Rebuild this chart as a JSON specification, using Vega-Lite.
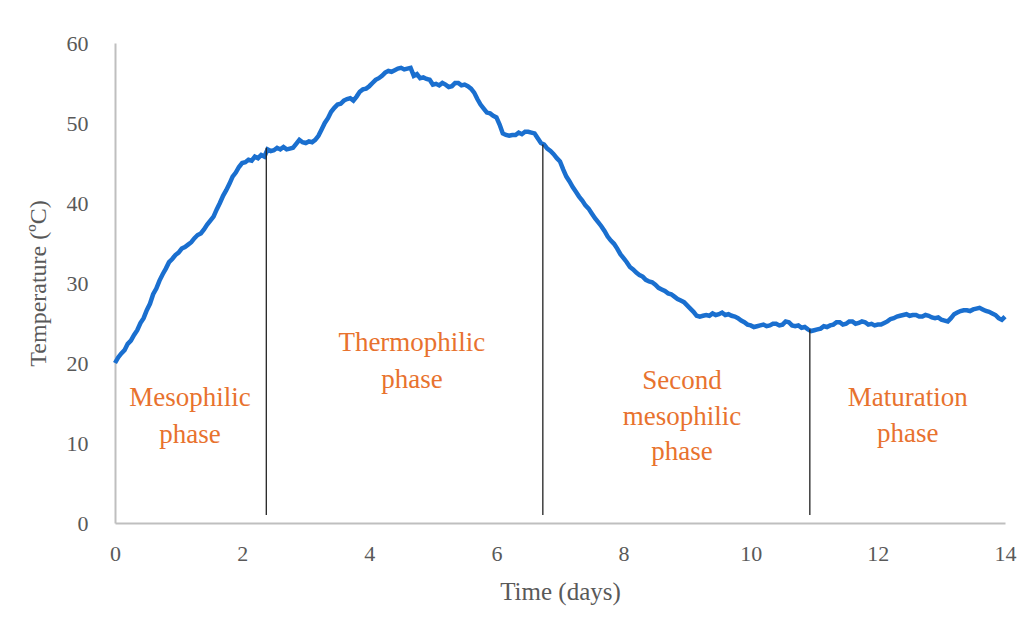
{
  "$schema": "https://vega.github.io/schema/vega-lite/v6.json",
  "width": 890,
  "height": 480,
  "autosize": {"type": "none"},
  "padding": {"left": 115, "top": 43, "right": 21, "bottom": 102},
  "background": "white",
  "config": {
    "view": {"stroke": null},
    "font": "Liberation Serif"
  },
  "datasets": {
    "temp": [
      {"t":0.0,"c":20.0},{"t":0.05,"c":20.7},{"t":0.1,"c":21.2},{"t":0.15,"c":21.6},{"t":0.2,"c":22.4},{"t":0.25,"c":22.8},{"t":0.3,"c":23.5},{"t":0.35,"c":24.1},{"t":0.4,"c":25.0},{"t":0.45,"c":25.6},{"t":0.5,"c":26.6},{"t":0.55,"c":27.4},{"t":0.6,"c":28.6},{"t":0.65,"c":29.3},{"t":0.7,"c":30.3},{"t":0.75,"c":31.1},{"t":0.8,"c":31.8},{"t":0.85,"c":32.6},{"t":0.9,"c":33.0},{"t":0.95,"c":33.5},{"t":1.0,"c":33.8},{"t":1.05,"c":34.3},{"t":1.1,"c":34.5},{"t":1.15,"c":34.8},{"t":1.2,"c":35.1},{"t":1.25,"c":35.6},{"t":1.3,"c":36.0},{"t":1.35,"c":36.2},{"t":1.4,"c":36.7},{"t":1.45,"c":37.3},{"t":1.5,"c":37.8},{"t":1.55,"c":38.3},{"t":1.6,"c":39.2},{"t":1.65,"c":40.0},{"t":1.7,"c":40.9},{"t":1.75,"c":41.6},{"t":1.8,"c":42.4},{"t":1.85,"c":43.3},{"t":1.9,"c":43.8},{"t":1.95,"c":44.5},{"t":2.0,"c":45.0},{"t":2.05,"c":45.1},{"t":2.1,"c":45.4},{"t":2.15,"c":45.3},{"t":2.2,"c":45.8},{"t":2.25,"c":45.6},{"t":2.3,"c":46.0},{"t":2.35,"c":45.8},{"t":2.4,"c":46.7},{"t":2.45,"c":46.5},{"t":2.5,"c":46.6},{"t":2.55,"c":46.9},{"t":2.6,"c":46.7},{"t":2.65,"c":47.0},{"t":2.7,"c":46.7},{"t":2.75,"c":46.8},{"t":2.8,"c":46.9},{"t":2.85,"c":47.4},{"t":2.9,"c":47.9},{"t":2.95,"c":47.6},{"t":3.0,"c":47.5},{"t":3.05,"c":47.7},{"t":3.1,"c":47.6},{"t":3.15,"c":47.9},{"t":3.2,"c":48.4},{"t":3.25,"c":49.2},{"t":3.3,"c":50.0},{"t":3.35,"c":50.6},{"t":3.4,"c":51.4},{"t":3.45,"c":51.9},{"t":3.5,"c":52.3},{"t":3.55,"c":52.4},{"t":3.6,"c":52.8},{"t":3.65,"c":53.0},{"t":3.7,"c":53.1},{"t":3.75,"c":52.8},{"t":3.8,"c":53.3},{"t":3.85,"c":53.9},{"t":3.9,"c":54.2},{"t":3.95,"c":54.3},{"t":4.0,"c":54.6},{"t":4.05,"c":55.0},{"t":4.1,"c":55.4},{"t":4.15,"c":55.6},{"t":4.2,"c":55.9},{"t":4.25,"c":56.3},{"t":4.3,"c":56.5},{"t":4.35,"c":56.4},{"t":4.4,"c":56.6},{"t":4.45,"c":56.8},{"t":4.5,"c":56.9},{"t":4.55,"c":56.7},{"t":4.6,"c":56.8},{"t":4.65,"c":56.9},{"t":4.7,"c":55.9},{"t":4.75,"c":56.1},{"t":4.8,"c":55.6},{"t":4.85,"c":55.7},{"t":4.9,"c":55.5},{"t":4.95,"c":55.4},{"t":5.0,"c":54.8},{"t":5.05,"c":54.9},{"t":5.1,"c":54.7},{"t":5.15,"c":55.0},{"t":5.2,"c":54.8},{"t":5.25,"c":54.5},{"t":5.3,"c":54.6},{"t":5.35,"c":55.0},{"t":5.4,"c":55.0},{"t":5.45,"c":54.7},{"t":5.5,"c":54.8},{"t":5.55,"c":54.6},{"t":5.6,"c":54.3},{"t":5.65,"c":53.8},{"t":5.7,"c":53.0},{"t":5.75,"c":52.3},{"t":5.8,"c":51.8},{"t":5.85,"c":51.3},{"t":5.9,"c":51.2},{"t":5.95,"c":50.9},{"t":6.0,"c":50.7},{"t":6.05,"c":49.8},{"t":6.1,"c":48.7},{"t":6.15,"c":48.5},{"t":6.2,"c":48.4},{"t":6.25,"c":48.5},{"t":6.3,"c":48.5},{"t":6.35,"c":48.8},{"t":6.4,"c":48.6},{"t":6.45,"c":48.9},{"t":6.5,"c":48.9},{"t":6.55,"c":48.8},{"t":6.6,"c":48.7},{"t":6.65,"c":48.1},{"t":6.7,"c":47.5},{"t":6.75,"c":47.3},{"t":6.8,"c":46.8},{"t":6.85,"c":46.5},{"t":6.9,"c":46.1},{"t":6.95,"c":45.6},{"t":7.0,"c":45.2},{"t":7.05,"c":44.2},{"t":7.1,"c":43.3},{"t":7.15,"c":42.7},{"t":7.2,"c":42.0},{"t":7.25,"c":41.4},{"t":7.3,"c":40.8},{"t":7.35,"c":40.3},{"t":7.4,"c":39.7},{"t":7.45,"c":39.3},{"t":7.5,"c":38.7},{"t":7.55,"c":38.1},{"t":7.6,"c":37.6},{"t":7.65,"c":37.1},{"t":7.7,"c":36.5},{"t":7.75,"c":35.8},{"t":7.8,"c":35.3},{"t":7.85,"c":34.9},{"t":7.9,"c":34.3},{"t":7.95,"c":33.6},{"t":8.0,"c":33.1},{"t":8.05,"c":32.6},{"t":8.1,"c":32.0},{"t":8.15,"c":31.7},{"t":8.2,"c":31.3},{"t":8.25,"c":31.0},{"t":8.3,"c":30.8},{"t":8.35,"c":30.4},{"t":8.4,"c":30.2},{"t":8.45,"c":30.1},{"t":8.5,"c":29.8},{"t":8.55,"c":29.4},{"t":8.6,"c":29.2},{"t":8.65,"c":29.0},{"t":8.7,"c":28.7},{"t":8.75,"c":28.6},{"t":8.8,"c":28.3},{"t":8.85,"c":28.0},{"t":8.9,"c":27.8},{"t":8.95,"c":27.6},{"t":9.0,"c":27.2},{"t":9.05,"c":26.8},{"t":9.1,"c":26.4},{"t":9.15,"c":25.9},{"t":9.2,"c":25.8},{"t":9.25,"c":25.9},{"t":9.3,"c":26.0},{"t":9.35,"c":25.9},{"t":9.4,"c":26.2},{"t":9.45,"c":26.0},{"t":9.5,"c":26.1},{"t":9.55,"c":26.3},{"t":9.6,"c":26.0},{"t":9.65,"c":26.1},{"t":9.7,"c":25.9},{"t":9.75,"c":25.8},{"t":9.8,"c":25.6},{"t":9.85,"c":25.3},{"t":9.9,"c":25.1},{"t":9.95,"c":24.8},{"t":10.0,"c":24.7},{"t":10.05,"c":24.5},{"t":10.1,"c":24.6},{"t":10.15,"c":24.7},{"t":10.2,"c":24.8},{"t":10.25,"c":24.6},{"t":10.3,"c":24.7},{"t":10.35,"c":24.9},{"t":10.4,"c":24.9},{"t":10.45,"c":24.7},{"t":10.5,"c":24.8},{"t":10.55,"c":25.2},{"t":10.6,"c":25.1},{"t":10.65,"c":24.7},{"t":10.7,"c":24.6},{"t":10.75,"c":24.7},{"t":10.8,"c":24.4},{"t":10.85,"c":24.5},{"t":10.9,"c":24.2},{"t":10.95,"c":24.0},{"t":11.0,"c":24.1},{"t":11.05,"c":24.2},{"t":11.1,"c":24.3},{"t":11.15,"c":24.6},{"t":11.2,"c":24.5},{"t":11.25,"c":24.7},{"t":11.3,"c":24.8},{"t":11.35,"c":25.1},{"t":11.4,"c":25.1},{"t":11.45,"c":24.8},{"t":11.5,"c":24.9},{"t":11.55,"c":25.2},{"t":11.6,"c":25.2},{"t":11.65,"c":24.9},{"t":11.7,"c":25.0},{"t":11.75,"c":25.2},{"t":11.8,"c":25.1},{"t":11.85,"c":24.8},{"t":11.9,"c":24.9},{"t":11.95,"c":24.7},{"t":12.0,"c":24.8},{"t":12.05,"c":24.8},{"t":12.1,"c":25.0},{"t":12.15,"c":25.2},{"t":12.2,"c":25.5},{"t":12.25,"c":25.6},{"t":12.3,"c":25.8},{"t":12.35,"c":25.9},{"t":12.4,"c":26.0},{"t":12.45,"c":26.1},{"t":12.5,"c":25.9},{"t":12.55,"c":26.0},{"t":12.6,"c":26.0},{"t":12.65,"c":25.8},{"t":12.7,"c":25.8},{"t":12.75,"c":26.0},{"t":12.8,"c":25.9},{"t":12.85,"c":25.7},{"t":12.9,"c":25.6},{"t":12.95,"c":25.7},{"t":13.0,"c":25.4},{"t":13.05,"c":25.3},{"t":13.1,"c":25.2},{"t":13.15,"c":25.6},{"t":13.2,"c":26.1},{"t":13.25,"c":26.3},{"t":13.3,"c":26.5},{"t":13.35,"c":26.6},{"t":13.4,"c":26.6},{"t":13.45,"c":26.5},{"t":13.5,"c":26.7},{"t":13.55,"c":26.8},{"t":13.6,"c":26.9},{"t":13.65,"c":26.7},{"t":13.7,"c":26.5},{"t":13.75,"c":26.4},{"t":13.8,"c":26.2},{"t":13.85,"c":26.0},{"t":13.9,"c":25.6},{"t":13.95,"c":25.4},{"t":14.0,"c":25.8}
    ],
    "rules": [
      {"t": 2.38, "lo": 1.0, "hi": 46.9},
      {"t": 6.73, "lo": 1.0, "hi": 47.3},
      {"t": 10.93, "lo": 1.0, "hi": 24.2}
    ],
    "labels": [
      {"t": 1.18, "c": 15.6, "txt": "Mesophilic"},
      {"t": 1.18, "c": 11.0, "txt": "phase"},
      {"t": 4.67, "c": 22.5, "txt": "Thermophilic"},
      {"t": 4.67, "c": 17.9, "txt": "phase"},
      {"t": 8.92, "c": 17.7, "txt": "Second"},
      {"t": 8.92, "c": 13.3, "txt": "mesophilic"},
      {"t": 8.92, "c": 8.9, "txt": "phase"},
      {"t": 12.47, "c": 15.6, "txt": "Maturation"},
      {"t": 12.47, "c": 11.1, "txt": "phase"}
    ]
  },
  "layer": [
    {
      "data": {"name": "temp"},
      "mark": {"type": "line", "color": "#1a6fcf", "strokeWidth": 4.5, "interpolate": "linear"},
      "encoding": {
        "x": {
          "field": "t", "type": "quantitative",
          "scale": {"domain": [0, 14], "nice": false},
          "axis": {
            "title": "Time (days)", "values": [0, 2, 4, 6, 8, 10, 12, 14], "format": "d",
            "grid": false, "ticks": false,
            "domainColor": "#bfbfbf", "domainWidth": 2,
            "labelFont": "Liberation Serif", "labelFontSize": 22, "labelColor": "#595959",
            "labelPadding": 20, "labelFlush": false,
            "titleFont": "Liberation Serif", "titleFontSize": 25, "titleFontWeight": "normal",
            "titleColor": "#595959", "titlePadding": 15
          }
        },
        "y": {
          "field": "c", "type": "quantitative",
          "scale": {"domain": [0, 60], "nice": false},
          "axis": {
            "title": "Temperature (ºC)", "values": [0, 10, 20, 30, 40, 50, 60],
            "grid": false, "ticks": false,
            "domainColor": "#bfbfbf", "domainWidth": 2,
            "labelFont": "Liberation Serif", "labelFontSize": 22, "labelColor": "#595959",
            "labelPadding": 27, "labelFlush": false,
            "titleFont": "Liberation Serif", "titleFontSize": 24, "titleFontWeight": "normal",
            "titleColor": "#595959", "titlePadding": 16
          }
        }
      }
    },
    {
      "data": {"name": "rules"},
      "mark": {"type": "rule", "color": "#222222", "strokeWidth": 1.3},
      "encoding": {
        "x": {"field": "t", "type": "quantitative"},
        "y": {"field": "lo", "type": "quantitative"},
        "y2": {"field": "hi"}
      }
    },
    {
      "data": {"name": "labels"},
      "mark": {"type": "text", "color": "#e8722e", "font": "Liberation Serif", "fontSize": 27, "align": "center", "baseline": "middle"},
      "encoding": {
        "x": {"field": "t", "type": "quantitative"},
        "y": {"field": "c", "type": "quantitative"},
        "text": {"field": "txt"}
      }
    }
  ]
}
